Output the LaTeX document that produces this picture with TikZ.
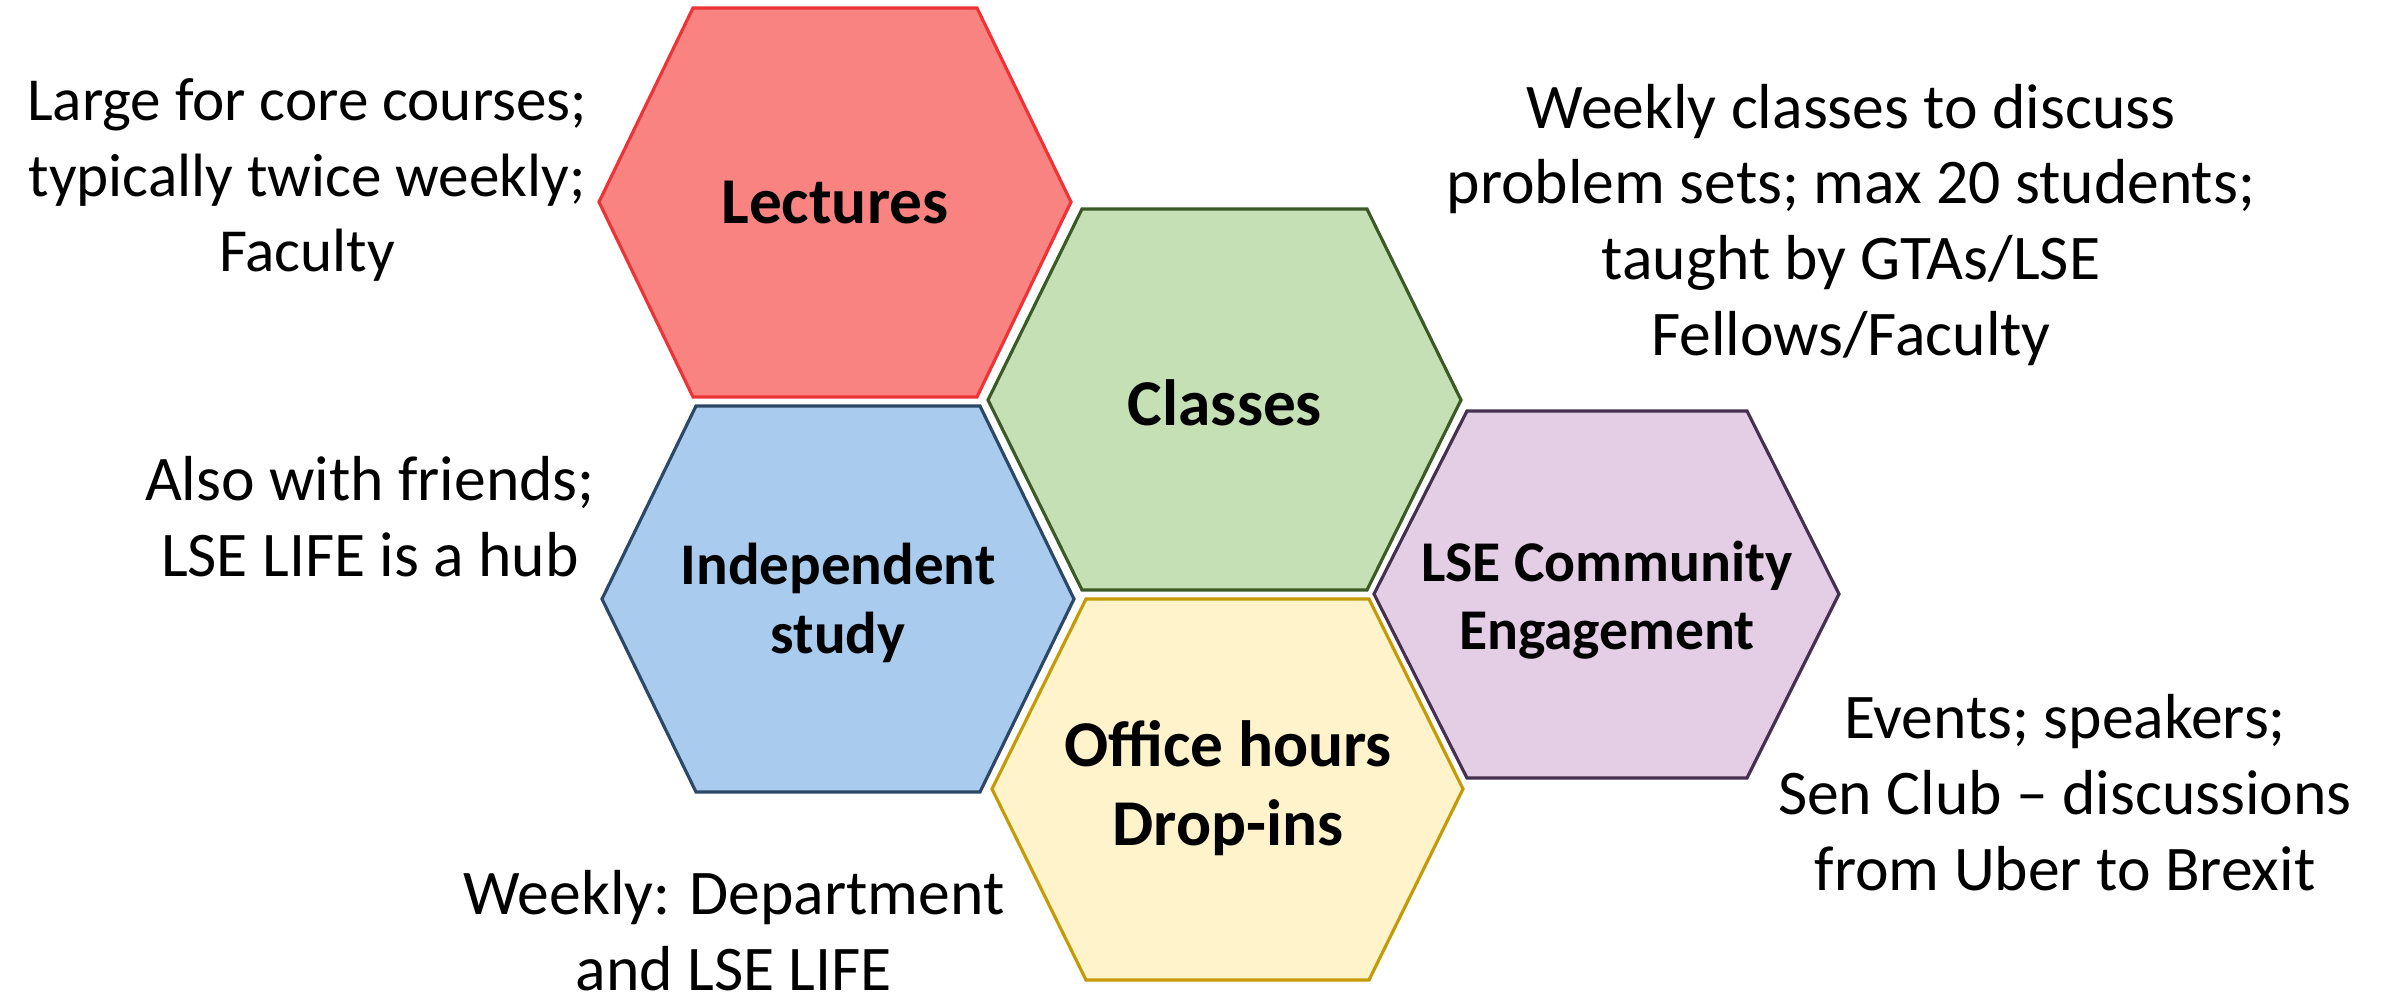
\documentclass[tikz,border=0pt]{standalone}
\usepackage{fontspec}
\setmainfont{Carlito}
\definecolor{lecfill}{HTML}{F88381}
\definecolor{lecline}{HTML}{EE3336}
\definecolor{clsfill}{HTML}{C5E0B4}
\definecolor{clsline}{HTML}{3B5A26}
\definecolor{indfill}{HTML}{A8CBEE}
\definecolor{indline}{HTML}{2C4866}
\definecolor{offfill}{HTML}{FFF3CC}
\definecolor{offline}{HTML}{C49A06}
\definecolor{comfill}{HTML}{E4CEE6}
\definecolor{comline}{HTML}{45304F}
\tikzset{
  cell/.style={line width=0.9pt, line join=miter},
  celltext/.style={font=\fontsize{18.6}{22.5}\selectfont\bfseries, align=center},
  note/.style={font=\fontsize{18.1}{21.6}\selectfont, align=center},
}
\begin{document}
\begin{tikzpicture}
      \useasboundingbox (0, 0) rectangle (23.86, 9.96);
      % hexagons
      \draw[cell, color = lecline, fill = lecfill] (5.99, 7.94) -- (6.93, 9.88) -- (9.77, 9.88) -- (10.71, 7.94) -- (9.77, 5.99) -- (6.93, 5.99) -- cycle;
      \draw[cell, color = clsline, fill = clsfill] (9.88, 5.96) -- (10.82, 7.87) -- (13.67, 7.87) -- (14.61, 5.96) -- (13.67, 4.06) -- (10.82, 4.06) -- cycle;
      \draw[cell, color = indline, fill = indfill] (6.02, 3.97) -- (6.96, 5.90) -- (9.80, 5.90) -- (10.74, 3.97) -- (9.80, 2.04) -- (6.96, 2.04) -- cycle;
      \draw[cell, color = offline, fill = offfill] (9.92, 2.07) -- (10.86, 3.97) -- (13.69, 3.97) -- (14.63, 2.07) -- (13.69, 0.16) -- (10.86, 0.16) -- cycle;
      \draw[cell, color = comline, fill = comfill] (13.74, 4.02) -- (14.67, 5.85) -- (17.47, 5.85) -- (18.39, 4.02) -- (17.47, 2.18) -- (14.67, 2.18) -- cycle;
      % labels
      \node[celltext] (lectures) at (8.35, 7.93) {Lectures};
      \node[celltext] (classes) at (12.25, 5.93) {Classes};
      \node[celltext, font=\fontsize{16.8}{19.5}\selectfont\bfseries] (study) at (8.38, 3.93) {Independent\\study};
      \node[celltext] (office) at (12.28, 2.08) {Office hours\\Drop-ins};
      \node[celltext, font=\fontsize{16.4}{19.5}\selectfont\bfseries] (community) at (16.07, 3.96) {LSE Community\\Engagement};
      % notes
      \node[note, font=\fontsize{17.4}{21.6}\selectfont] (lecnote) at (3.07, 8.16) {Large for core courses;\\typically twice weekly;\\Faculty};
      \node[note] (clsnote) at (18.51, 7.71) {Weekly classes to discuss\\problem sets; max 20 students;\\taught by GTAs/LSE\\Fellows/Faculty};
      \node[note] (indnote) at (3.70, 4.79) {Also with friends;\\LSE LIFE is a hub};
      \node[note] (comnote) at (20.65, 2.03) {Events; speakers;\\Sen Club -- discussions\\from Uber to Brexit};
      \node[note] (offnote) at (7.34, 0.65) {Weekly: Department\\and LSE LIFE};
    \end{tikzpicture}
\end{document}
